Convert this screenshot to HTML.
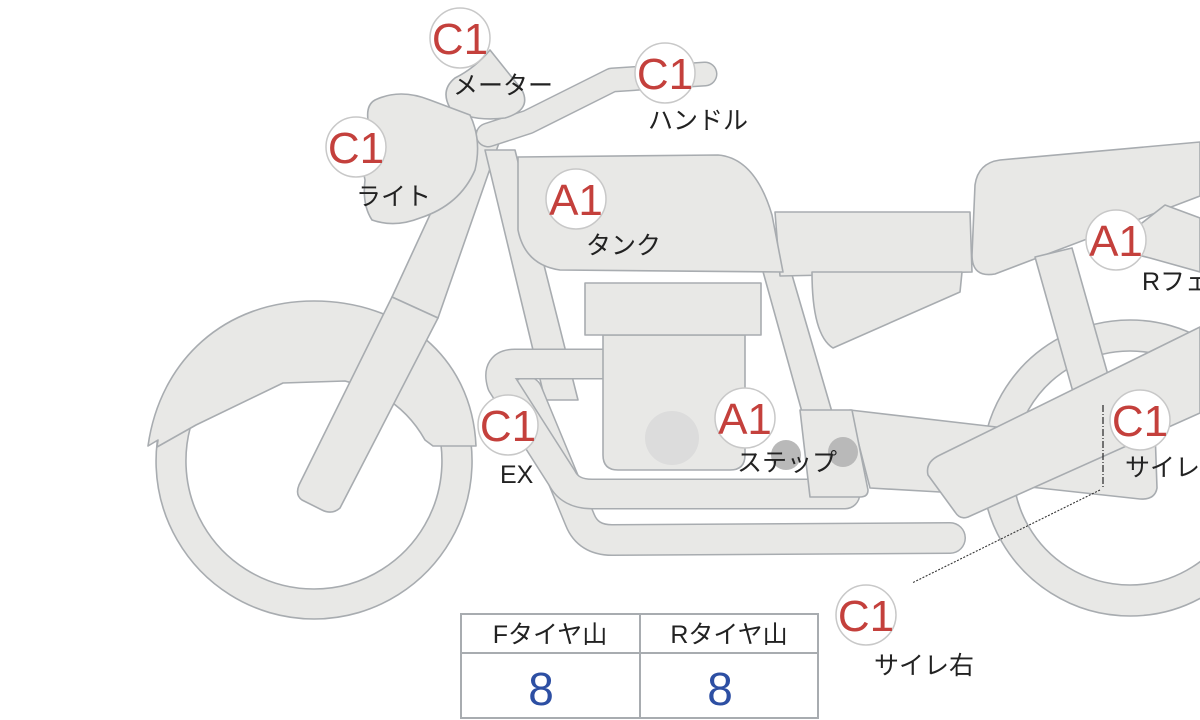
<!DOCTYPE html>
<html><head><meta charset="utf-8"><style>
html,body{margin:0;padding:0;background:#fff;}
svg{display:block;}
.s{fill:#e8e8e6;stroke:#a8acb0;stroke-width:1.6;stroke-linejoin:round;}
.lb{font-family:"Liberation Sans","Noto Sans CJK JP",sans-serif;font-size:25px;fill:#222;}
.cr{fill:#fff;stroke:#c8c8c8;stroke-width:1.5;}
.ct{font-family:"Liberation Sans",sans-serif;font-size:44px;fill:#c4403c;text-anchor:middle;}
</style></head><body>
<svg width="1200" height="720" viewBox="0 0 1200 720" xmlns="http://www.w3.org/2000/svg">
<!-- rear wheel -->
<path class="s" fill-rule="evenodd" d="M1130,320 a148,148 0 1,0 0.1,0 Z M1130,351 a117,117 0 1,1 -0.1,0 Z"/>
<!-- front wheel -->
<path class="s" fill-rule="evenodd" d="M314,303 a158,158 0 1,0 0.1,0 Z M314,333 a128,128 0 1,1 -0.1,0 Z"/>
<!-- front fender -->
<path class="s" d="M148,446 L158,440 L157,447 L196,425 L283,383 L345,381 Q400,395 425,440 L433,446 L476,446 C472,355 400,301 314,301 C225,301 160,360 148,446 Z"/>
<!-- fork -->
<path class="s" d="M438,318 L500,140 L470,128 L392,297 Z"/>
<path class="s" d="M392,297 L438,318 L340,508 Q332,515 322,510 L302,500 Q295,495 299,485 Z"/>
<!-- frame tubes -->
<path class="s" d="M485,150 L515,150 L578,400 L545,400 Z"/>
<path class="s" d="M762,268 L790,268 L832,412 L802,412 Z"/>
<!-- seat -->
<path class="s" d="M1000,160 L1200,142 L1200,196 L995,274 Q972,278 972,255 L975,185 Q978,163 1000,160 Z"/>
<path class="s" d="M1165,205 L1200,218 L1200,272 L1150,258 L1110,248 Z"/>
<!-- shock -->
<path class="s" d="M1035,257 L1072,248 L1110,382 L1073,392 Z"/>
<!-- side cover + bar behind tank -->
<path class="s" d="M775,212 L970,212 L972,272 L780,276 Z"/>
<path class="s" d="M812,272 L962,272 L960,292 L833,348 Q812,335 812,272 Z"/>
<!-- swingarm -->
<path class="s" d="M850,410 L1005,428 L1000,470 L940,492 L870,488 Z"/>
<path class="s" d="M1030,470 L1155,430 L1157,488 Q1155,500 1140,499 L1030,487 Z"/>
<!-- exhaust pipes -->
<path d="M950,538 L612,540 Q588,540 580,520 L527,392" fill="none" stroke="#a8acb0" stroke-width="32" stroke-linecap="round"/>
<path d="M950,538 L612,540 Q588,540 580,520 L527,392" fill="none" stroke="#e8e8e6" stroke-width="29" stroke-linecap="round"/>
<path d="M845,494 L592,494 Q570,494 562,478 L502,384 Q496,364 515,364 L605,364" fill="none" stroke="#a8acb0" stroke-width="31" stroke-linecap="round" stroke-linejoin="round"/>
<path d="M845,494 L592,494 Q570,494 562,478 L502,384 Q496,364 515,364 L605,364" fill="none" stroke="#e8e8e6" stroke-width="28" stroke-linecap="round" stroke-linejoin="round"/>
<!-- step bracket -->
<path class="s" d="M800,410 L852,410 L868,490 Q868,497 860,497 L810,497 Z"/>
<!-- engine -->
<path class="s" d="M603,335 L745,335 L745,455 Q745,470 730,470 L618,470 Q603,470 603,455 Z"/>
<rect class="s" x="585" y="283" width="176" height="52"/>
<circle cx="672" cy="438" r="27" fill="#dcdcdc"/>
<circle cx="786" cy="455" r="15" fill="#b9b9b9"/>
<circle cx="843" cy="452" r="15" fill="#b9b9b9"/>
<!-- muffler -->
<path class="s" d="M940,455 L1200,327 L1200,413 L968,517 Q960,520 955,512 L928,475 Q925,462 940,455 Z"/>
<!-- tank -->
<path class="s" d="M518,157 L718,155 Q755,158 772,215 L783,272 L560,270 Q525,265 518,230 Z"/>
<!-- handlebar -->
<path d="M488,135 L528,122 L612,80 L705,74" fill="none" stroke="#a8acb0" stroke-width="25" stroke-linecap="round" stroke-linejoin="round"/>
<path d="M488,135 L528,122 L612,80 L705,74" fill="none" stroke="#e8e8e6" stroke-width="22" stroke-linecap="round" stroke-linejoin="round"/>
<!-- meter -->
<path class="s" d="M490,50 Q510,75 522,90 Q532,110 505,118 Q470,122 450,108 Q440,90 455,78 Q475,68 490,50 Z"/>
<!-- light -->
<path class="s" d="M375,100 Q400,88 430,100 L470,115 Q482,140 475,170 Q460,205 420,218 Q395,228 372,220 Q362,205 365,180 Q358,150 368,120 Q366,105 375,100 Z"/>
<!-- dashed leader -->
<path d="M1103,405 L1103,488" fill="none" stroke="#333" stroke-width="1.3" stroke-dasharray="7,2,1,2"/>
<path d="M1100,490 L912,583" fill="none" stroke="#333" stroke-width="1.1" stroke-dasharray="2,1.5"/>
<!-- badges -->
<g>
<circle class="cr" cx="460" cy="38" r="30"/><text class="ct" x="460" y="54">C1</text>
<circle class="cr" cx="665" cy="73" r="30"/><text class="ct" x="665" y="89">C1</text>
<circle class="cr" cx="356" cy="147" r="30"/><text class="ct" x="356" y="163">C1</text>
<circle class="cr" cx="576" cy="199" r="30"/><text class="ct" x="576" y="215">A1</text>
<circle class="cr" cx="1116" cy="240" r="30"/><text class="ct" x="1116" y="256">A1</text>
<circle class="cr" cx="508" cy="425" r="30"/><text class="ct" x="508" y="441">C1</text>
<circle class="cr" cx="745" cy="418" r="30"/><text class="ct" x="745" y="434">A1</text>
<circle class="cr" cx="1140" cy="420" r="30"/><text class="ct" x="1140" y="436">C1</text>
<circle class="cr" cx="866" cy="615" r="30"/><text class="ct" x="866" y="631">C1</text>
</g>
<text class="lb" x="453" y="94">メーター</text>
<text class="lb" x="648" y="129">ハンドル</text>
<text class="lb" x="356" y="205">ライト</text>
<text class="lb" x="586" y="254">タンク</text>
<text class="lb" x="1142" y="290">Rフェンダー</text>
<text class="lb" x="500" y="483">EX</text>
<text class="lb" x="737" y="471">ステップ</text>
<text class="lb" x="1125" y="476">サイレ左</text>
<text class="lb" x="874" y="674">サイレ右</text>
<!-- table -->
<rect x="461" y="614" width="357" height="104" fill="#fff" stroke="#a8acb0" stroke-width="2"/>
<line x1="461" y1="653" x2="818" y2="653" stroke="#a8acb0" stroke-width="2"/>
<line x1="640" y1="614" x2="640" y2="718" stroke="#a8acb0" stroke-width="2"/>
<text class="lb" x="550" y="643" text-anchor="middle">Fタイヤ山</text>
<text class="lb" x="729" y="643" text-anchor="middle">Rタイヤ山</text>
<text x="541" y="705" text-anchor="middle" font-family="Liberation Sans,sans-serif" font-size="46" fill="#2d4fa3">8</text>
<text x="720" y="705" text-anchor="middle" font-family="Liberation Sans,sans-serif" font-size="46" fill="#2d4fa3">8</text>
</svg>
</body></html>
